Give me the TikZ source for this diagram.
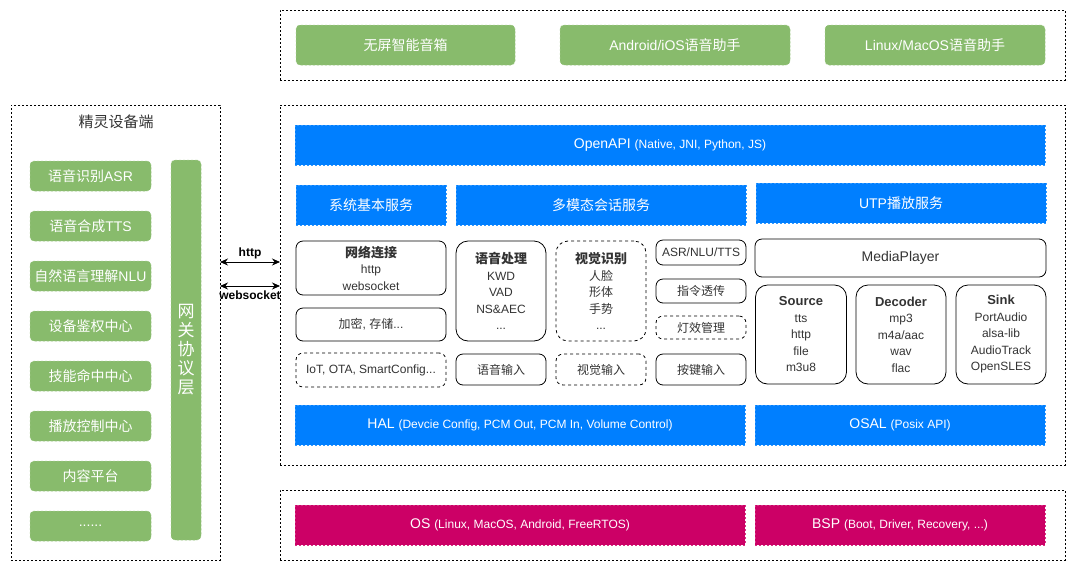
\documentclass[tikz,border=0pt]{standalone}
\usepackage{fontspec}
\setmainfont{Liberation Sans}
\newfontfamily\cjk{Noto Sans CJK SC}
\newcommand{\zh}[1]{{\cjk #1}}
\newcommand{\fs}[2]{\fontsize{#1}{#2}\selectfont}
\newcommand{\smalltxt}[1]{{\fs{12}{14}#1}}
\newcommand{\moredots}{......}
\usetikzlibrary{arrows.meta}
\definecolor{appgreen}{HTML}{88BB6C}
\definecolor{apiblue}{HTML}{007FFF}
\definecolor{osred}{HTML}{CC0066}
\definecolor{inktext}{HTML}{333333}

\begin{document}
\begin{tikzpicture}[x=1pt, y=-1pt,
    panel/.style={draw, dash pattern=on 2pt off 2pt, line width=0.8pt, inner sep=0pt, outer sep=0pt},
    colbox/.style={fill=#1, draw=#1!80!white, dash pattern=on 2pt off 2pt, line width=0.5pt, text=white,
                   inner sep=0pt, align=center, font=\fs{14}{16}},
    gbox/.style={colbox=appgreen, rounded corners=4pt},
    bbox/.style={colbox=apiblue},
    mbox/.style={colbox=osred},
    wbox/.style={draw, rounded corners=7pt, line width=0.8pt, inner sep=0pt, align=center,
                 text=inktext, font=\fs{12}{16.5}},
    tallbox/.style={wbox, rounded corners=12pt},
    biarrow/.style={{Stealth[length=8pt,width=7pt]}-{Stealth[length=8pt,width=7pt]}, line width=0.8pt}
  ]
  \useasboundingbox (0,0) rectangle (1076,571);

  % application layer
  \node[panel, minimum width=785pt, minimum height=70pt] (apppanel) at (672.5,45) {};
  \node[gbox, minimum width=219pt, minimum height=40pt] (speaker) at (405.5,45) {\zh{无屏智能音箱}};
  \node[gbox, minimum width=230pt, minimum height=40pt] (android) at (675,45) {Android/iOS\zh{语音助手}};
  \node[gbox, minimum width=220pt, minimum height=40pt] (linux) at (935,45) {Linux/MacOS\zh{语音助手}};

  % sdk layer
  \node[panel, minimum width=785pt, minimum height=360pt] (sdkpanel) at (672.5,285) {};
  \node[bbox, minimum width=750pt, minimum height=40pt] (openapi) at (670,145)
    {OpenAPI \smalltxt{(Native, JNI, Python, JS)}};
  \node[bbox, minimum width=150pt, minimum height=40pt] (sysserv) at (371,205) {\zh{系统基本服务}};
  \node[bbox, minimum width=290pt, minimum height=40pt] (dialog) at (601,205) {\zh{多模态会话服务}};
  \node[bbox, minimum width=290pt, minimum height=40pt] (utp) at (901,203) {UTP\zh{播放服务}};

  \node[wbox, minimum width=150pt, minimum height=54pt] (netconn) at (371,268)
    {{\fs{13}{16}\bfseries\zh{网络连接}}\\http\\websocket};
  \node[wbox, minimum width=150pt, minimum height=33pt] (crypto) at (371,324.5) {\zh{加密}, \zh{存储}...};
  \node[wbox, dashed, minimum width=150pt, minimum height=34pt] (iot) at (371,370) {IoT, OTA, SmartConfig...};

  \node[tallbox, minimum width=90pt, minimum height=100pt] (voice) at (501,291)
    {{\fs{13}{16.5}\bfseries\zh{语音处理}}\\KWD\\VAD\\NS\&AEC\\...};
  \node[tallbox, dashed, minimum width=90pt, minimum height=100pt] (vision) at (601,291)
    {{\fs{13}{16.5}\bfseries\zh{视觉识别}}\\\zh{人脸}\\\zh{形体}\\\zh{手势}\\...};
  \node[wbox, minimum width=90pt, minimum height=25pt] (cloud) at (701,252.5) {ASR/NLU/TTS};
  \node[wbox, minimum width=90pt, minimum height=24pt] (cmd) at (701,291) {\zh{指令透传}};
  \node[wbox, dashed, minimum width=90pt, minimum height=23pt] (light) at (701,327.5) {\zh{灯效管理}};

  \node[wbox, minimum width=90pt, minimum height=31pt] (voicein) at (501,369.5) {\zh{语音输入}};
  \node[wbox, dashed, minimum width=90pt, minimum height=31pt] (visionin) at (601,369.5) {\zh{视觉输入}};
  \node[wbox, minimum width=90pt, minimum height=31pt] (keyin) at (701,369.5) {\zh{按键输入}};

  \node[wbox, minimum width=291pt, minimum height=38pt, font=\fs{14}{16}] (player) at (900.5,258) {MediaPlayer};
  \node[tallbox, minimum width=91pt, minimum height=99pt] (source) at (801,334.5)
    {{\fs{13}{16.5}\bfseries Source}\\tts\\http\\file\\m3u8};
  \node[tallbox, minimum width=90pt, minimum height=99pt] (decoder) at (901,334.5)
    {{\fs{13}{16.5}\bfseries Decoder}\\mp3\\m4a/aac\\wav\\flac};
  \node[tallbox, minimum width=90pt, minimum height=99pt] (sink) at (1001,334.5)
    {{\fs{13}{16.5}\bfseries Sink}\\PortAudio\\alsa-lib\\AudioTrack\\OpenSLES};

  \node[bbox, minimum width=450pt, minimum height=40pt] (hal) at (520,425)
    {HAL \smalltxt{(Devcie Config, PCM Out, PCM In, Volume Control)}};
  \node[bbox, minimum width=290pt, minimum height=40pt] (osal) at (900,425) {OSAL \smalltxt{(Posix API)}};

  % system layer
  \node[panel, minimum width=785pt, minimum height=70pt] (ospanel) at (672.5,525) {};
  \node[mbox, minimum width=450pt, minimum height=40pt] (os) at (520,525)
    {OS \smalltxt{(Linux, MacOS, Android, FreeRTOS)}};
  \node[mbox, minimum width=290pt, minimum height=40pt] (bsp) at (900,525)
    {BSP \smalltxt{(Boot, Driver, Recovery, ...)}};

  % device cloud side
  \node[panel, minimum width=209pt, minimum height=455pt] (devpanel) at (115.5,332.5) {};
  \node[font=\fs{15}{18}, text=inktext] (devtitle) at (116,122) {\zh{精灵设备端}};
  \foreach \lbl [count=\i from 0] in {{\zh{语音识别}ASR}, {\zh{语音合成}TTS}, {\zh{自然语言理解}NLU},
      {\zh{设备鉴权中心}}, {\zh{技能命中中心}}, {\zh{播放控制中心}}, {\zh{内容平台}}, {\moredots}}
    \node[gbox, minimum width=121pt, minimum height=30pt] (svc\i) at (90.5,176+50*\i) {\lbl};
  \node[gbox, minimum width=30pt, minimum height=380pt, font=\fs{17}{19}] (gateway) at (186,350)
    {\zh{网}\\\zh{关}\\\zh{协}\\\zh{议}\\\zh{层}};

  \coordinate (httpY) at (0,262);
  \coordinate (wsY) at (0,286);
  \draw[biarrow] (devpanel.east |- httpY) -- (sdkpanel.west |- httpY)
    node[midway, above, font=\fs{12}{14}\bfseries, inner sep=3pt] {http};
  \draw[biarrow] (devpanel.east |- wsY) -- (sdkpanel.west |- wsY)
    node[midway, below, font=\fs{12}{14}\bfseries, inner sep=4pt] {websocket};
\end{tikzpicture}
\end{document}
